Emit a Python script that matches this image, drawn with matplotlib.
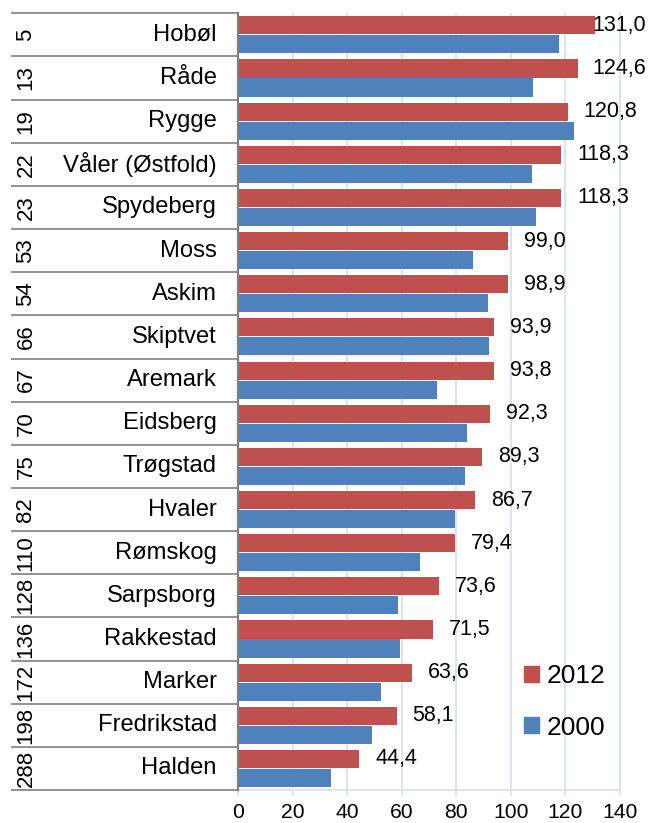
import matplotlib
matplotlib.use("Agg")
import matplotlib.pyplot as plt
import matplotlib.transforms as mtransforms
from matplotlib.patches import Patch
import numpy as np

plt.rcParams['font.family'] = ['Liberation Sans', 'DejaVu Sans']

names = ["Hobøl", "Råde", "Rygge", "Våler (Østfold)", "Spydeberg", "Moss", "Askim",
         "Skiptvet", "Aremark", "Eidsberg", "Trøgstad", "Hvaler", "Rømskog",
         "Sarpsborg", "Rakkestad", "Marker", "Fredrikstad", "Halden"]
ranks = [5, 13, 19, 22, 23, 53, 54, 66, 67, 70, 75, 82, 110, 128, 136, 172, 198, 288]
v2012 = [131.0, 124.6, 120.8, 118.3, 118.3, 99.0, 98.9, 93.9, 93.8, 92.3, 89.3, 86.7,
         79.4, 73.6, 71.5, 63.6, 58.1, 44.4]
v2000 = [117.5, 108.1, 123.0, 107.6, 109.2, 86.3, 91.6, 92.0, 73.0, 84.0, 83.1, 79.6,
         66.6, 58.8, 59.3, 52.3, 49.2, 34.2]
xticks = [0, 20, 40, 60, 80, 100, 120, 140]

RED = "#C0504D"
BLUE = "#4F81BD"
GRID = "#D9E2F0"
GRAY = "#808080"

W, H = 648, 823
fig = plt.figure(figsize=(W / 100, H / 100), dpi=100)
ax = fig.add_axes([238 / W, 1 - 790 / H, (620 - 238) / W, (790 - 13.3) / H])

y = np.arange(len(names))
bh = 0.42
ax.barh(y - 0.22, v2012, height=bh, color=RED, zorder=3, label="2012")
ax.barh(y + 0.22, v2000, height=bh, color=BLUE, zorder=3, label="2000")

ax.set_ylim(len(names) - 0.5, -0.5)
ax.set_xlim(0, 140)
ax.set_xticks(xticks)
ax.set_xticklabels([str(t) for t in xticks], fontsize=15.2)
ax.set_yticks([])
ax.set_axisbelow(True)
ax.grid(axis="x", color=GRID, linewidth=1.3)
ax.tick_params(axis="x", length=4, width=1.2, color=GRID, pad=5.5, labelcolor="black")

ax.spines["top"].set_visible(False)
ax.spines["right"].set_color(GRID)
ax.spines["right"].set_linewidth(1.3)
ax.spines["bottom"].set_color(GRID)
ax.spines["bottom"].set_linewidth(1.3)
ax.spines["left"].set_color(GRAY)
ax.spines["left"].set_linewidth(1.6)
ax.spines["left"].set_zorder(5)

# data labels for 2012
for i, v in enumerate(v2012):
    xt = min(v + 5.9, 130.0)
    ax.text(xt, i - 0.22, f"{v:.1f}".replace(".", ","), ha="left", va="center",
            fontsize=15.5, color="black", zorder=6)

# left table
tr = mtransforms.blended_transform_factory(fig.transFigure, ax.transData)
for k in range(len(names) + 1):
    ax.plot([11 / W, 238 / W], [k - 0.5, k - 0.5], transform=tr, color=GRAY,
            linewidth=1.2, clip_on=False, solid_capstyle="butt")
for i, (n, r) in enumerate(zip(names, ranks)):
    ax.text(216.7 / W, i, n, transform=tr, ha="right", va="center", fontsize=17.1,
            color="black")
    ax.text(26 / W, i, str(r), transform=tr, ha="center", va="center", rotation=90,
            fontsize=16, color="black", rotation_mode="anchor")

handles = [Patch(color=RED, label="2012"), Patch(color=BLUE, label="2000")]
leg = fig.legend(handles=handles, loc="upper left", bbox_to_anchor=(524 / W, 1 - 664 / H),
                 frameon=False, fontsize=19, handlelength=0.55, handleheight=0.55,
                 handletextpad=0.3, labelspacing=1.05, borderpad=0, borderaxespad=0)

fig.savefig("out.png", dpi=100)
